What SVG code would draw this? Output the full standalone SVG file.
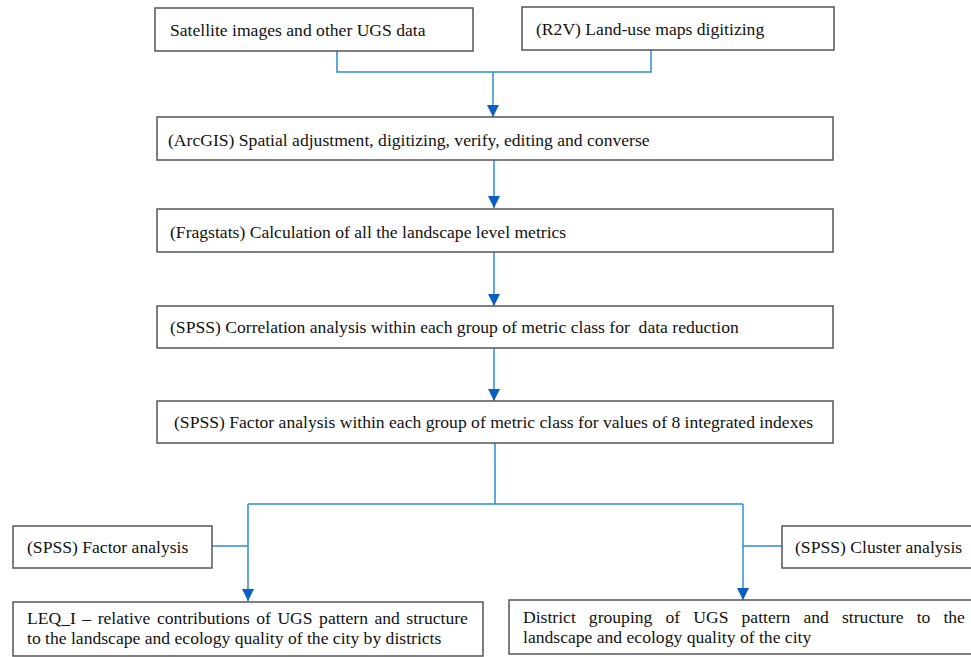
<svg xmlns="http://www.w3.org/2000/svg" width="971" height="657" viewBox="0 0 971 657">
<style>
.box{fill:#fff;stroke:#555;stroke-width:1.5}
.t{font-size:17.6px;fill:#111}
.c{fill:none;stroke:#2b8fd0;stroke-width:1.5}
</style>
<defs>
<marker id="ah" viewBox="0 0 12 12" refX="12" refY="6" markerWidth="12" markerHeight="12" markerUnits="userSpaceOnUse" orient="auto">
<path d="M0,0 L12,6 L0,12 Z" fill="#0a5fc0"/>
</marker>
</defs>
<rect width="971" height="657" fill="#fff"/>
<g id="connectors">
<path class="c" d="M337,51 V72 H651 V50"/>
<path class="c" d="M493,72 V117" marker-end="url(#ah)"/>
<path class="c" d="M494,160 V208" marker-end="url(#ah)"/>
<path class="c" d="M494,252 V306" marker-end="url(#ah)"/>
<path class="c" d="M494,348 V401" marker-end="url(#ah)"/>
<path class="c" d="M495,443 V504 M248,504 H743"/>
<path class="c" d="M248,504 V601" marker-end="url(#ah)"/>
<path class="c" d="M743,504 V600" marker-end="url(#ah)"/>
<path class="c" d="M212,546 H248 M743,546 H782"/>
</g>
<g id="n1"><rect class="box" x="155" y="8" width="318" height="43"/><text class="t" font-family="Liberation Serif" x="170" y="36">Satellite images and other UGS data</text></g>
<g id="n2"><rect class="box" x="522" y="7" width="312" height="43"/><text class="t" font-family="Liberation Serif" x="536" y="35">(R2V) Land-use maps digitizing</text></g>
<g id="n3"><rect class="box" x="157" y="117" width="676" height="43"/><text class="t" font-family="Liberation Serif" x="168" y="146">(ArcGIS) Spatial adjustment, digitizing, verify, editing and converse</text></g>
<g id="n4"><rect class="box" x="157" y="209" width="676" height="43"/><text class="t" font-family="Liberation Serif" x="170" y="238">(Fragstats) Calculation of all the landscape level metrics</text></g>
<g id="n5"><rect class="box" x="157" y="306" width="676" height="42"/><text class="t" font-family="Liberation Serif" x="170" y="333" xml:space="preserve">(SPSS) Correlation analysis within each group of metric class for  data reduction</text></g>
<g id="n6"><rect class="box" x="157" y="401" width="676" height="42"/><text class="t" font-family="Liberation Serif" x="174" y="428">(SPSS) Factor analysis within each group of metric class for values of 8 integrated indexes</text></g>
<g id="n7"><rect class="box" x="13" y="526" width="199" height="42"/><text class="t" font-family="Liberation Serif" x="27" y="553">(SPSS) Factor analysis</text></g>
<g id="n8"><rect class="box" x="782" y="526" width="195" height="42"/><text class="t" font-family="Liberation Serif" x="795" y="553">(SPSS) Cluster analysis</text></g>
<g id="n9"><rect class="box" x="13" y="602" width="470" height="54"/><text class="t" font-family="Liberation Serif" x="27" y="624" word-spacing="2.1">LEQ_I – relative contributions of UGS pattern and structure</text><text class="t" font-family="Liberation Serif" x="27" y="644">to the landscape and ecology quality of the city by districts</text></g>
<g id="n10"><rect class="box" x="509" y="600" width="468" height="54"/><text class="t" font-family="Liberation Serif" x="523" y="623" word-spacing="8.7">District grouping of UGS pattern and structure to the</text><text class="t" font-family="Liberation Serif" x="523" y="643">landscape and ecology quality of the city</text></g>
</svg>
